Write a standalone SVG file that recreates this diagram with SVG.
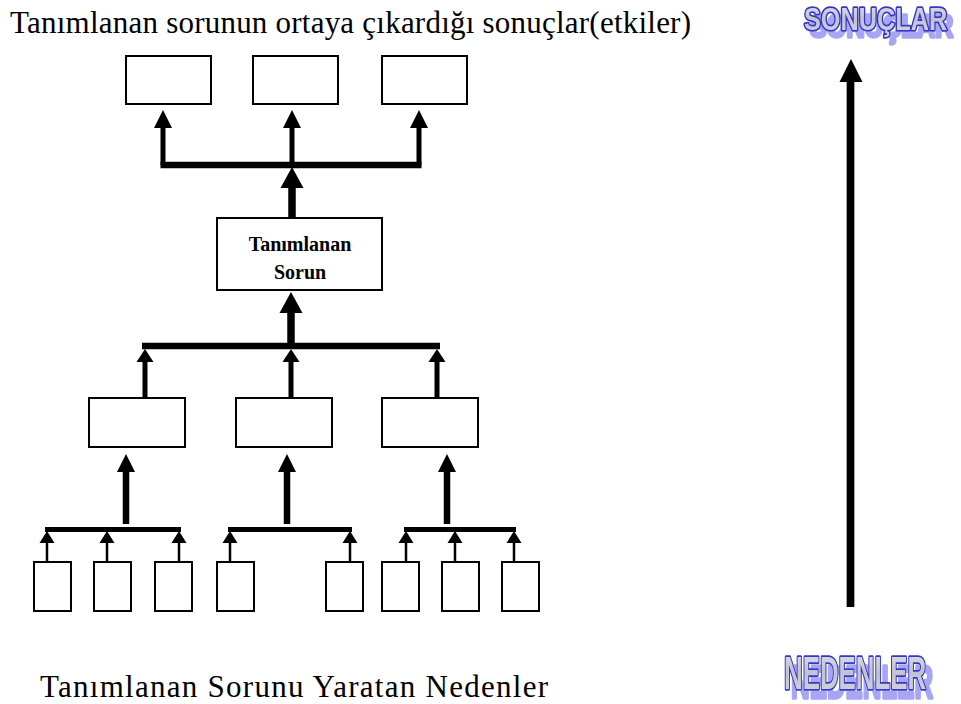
<svg xmlns="http://www.w3.org/2000/svg" width="961" height="704" viewBox="0 0 961 704">
  <defs>
    <linearGradient id="artFill" x1="0" y1="0" x2="0" y2="1">
      <stop offset="0" stop-color="#e2e2ec"/>
      <stop offset="0.5" stop-color="#c2c2d0"/>
      <stop offset="1" stop-color="#d6d6e2"/>
    </linearGradient>
    <!-- soft blue drop shadow for the word-art labels -->
    <filter id="artShadowSmall" x="-10%" y="-30%" width="130%" height="180%">
      <feOffset in="SourceAlpha" dx="6" dy="7" result="off"/>
      <feFlood flood-color="#a6a6f4"/>
      <feComposite in2="off" operator="in" result="shadow"/>
      <feMerge><feMergeNode in="shadow"/><feMergeNode in="SourceGraphic"/></feMerge>
    </filter>
    <filter id="artShadowLarge" x="-10%" y="-30%" width="130%" height="180%">
      <feOffset in="SourceAlpha" dx="7" dy="9" result="off"/>
      <feFlood flood-color="#a6a6f4"/>
      <feComposite in2="off" operator="in" result="shadow"/>
      <feMerge><feMergeNode in="shadow"/><feMergeNode in="SourceGraphic"/></feMerge>
    </filter>
  </defs>
  <style>
    .box { fill: #ffffff; stroke: #000000; stroke-width: 2; }
    .bar { stroke: #000000; fill: none; stroke-linecap: butt; }
    .head { fill: #000000; }
    .caption { font-family: "Liberation Serif", "Times New Roman", serif; font-size: 31px; fill: #000000; }
    .label { font-family: "Liberation Serif", "Times New Roman", serif; font-size: 20px; font-weight: bold; fill: #000000; text-anchor: middle; }
    .art { font-family: "Liberation Sans", Arial, sans-serif; font-weight: bold; fill: url(#artFill); stroke: #3434c8; stroke-width: 3.5; paint-order: stroke; stroke-linejoin: round; }
  </style>

  <!-- headings -->
  <text class="caption" x="10" y="33" textLength="681" lengthAdjust="spacing">Tanımlanan sorunun ortaya çıkardığı sonuçlar(etkiler)</text>
  <text class="caption" x="40" y="697" font-size="32" textLength="508" lengthAdjust="spacing">Tanımlanan Sorunu Yaratan Nedenler</text>

  <!-- word-art side labels -->
  <g id="sonuclar" filter="url(#artShadowSmall)">
    <text class="art" font-size="32" transform="translate(804 30) scale(0.79 1)">SONUÇLAR</text>
  </g>
  <g id="nedenler" filter="url(#artShadowLarge)">
    <text class="art" font-size="47" transform="translate(784 689) scale(0.55 1)">NEDENLER</text>
  </g>

  <!-- effects -->
  <g id="effect-1"><rect class="box" x="126" y="56" width="85" height="48"/></g>
  <g id="effect-2"><rect class="box" x="253" y="56" width="85" height="48"/></g>
  <g id="effect-3"><rect class="box" x="382" y="56" width="85" height="48"/></g>

  <!-- core problem -->
  <g id="problem">
    <rect class="box" x="217" y="218" width="165" height="72"/>
    <text class="label" x="300" y="251">Tanımlanan</text>
    <text class="label" x="300" y="279">Sorun</text>
  </g>

  <!-- main causes -->
  <g id="cause-1"><rect class="box" x="89" y="398" width="96" height="49"/></g>
  <g id="cause-2"><rect class="box" x="236" y="398" width="96" height="49"/></g>
  <g id="cause-3"><rect class="box" x="382" y="398" width="96" height="49"/></g>

  <!-- sub causes -->
  <g id="sub-1-1"><rect class="box" x="34" y="562" width="37" height="49"/></g>
  <g id="sub-1-2"><rect class="box" x="94" y="562" width="37" height="49"/></g>
  <g id="sub-1-3"><rect class="box" x="155" y="562" width="37" height="49"/></g>
  <g id="sub-2-1"><rect class="box" x="217" y="562" width="37" height="49"/></g>
  <g id="sub-2-2"><rect class="box" x="326" y="562" width="37" height="49"/></g>
  <g id="sub-3-1"><rect class="box" x="382" y="562" width="37" height="49"/></g>
  <g id="sub-3-2"><rect class="box" x="442" y="562" width="37" height="49"/></g>
  <g id="sub-3-3"><rect class="box" x="502" y="562" width="37" height="49"/></g>

  <g id="connectors">
    <!-- problem to effects -->
    <path class="bar" stroke-width="6.5" d="M160.5 165 H421.5"/>
    <path class="bar" stroke-width="5" d="M163 165 V127 M292 165 V127 M419 165 V127"/>
    <polygon class="head" points="163,110 154,128 172,128"/>
    <polygon class="head" points="292,110 283,128 301,128"/>
    <polygon class="head" points="419,110 410,128 428,128"/>
    <path class="bar" stroke-width="7.5" d="M292 218 V187"/>
    <polygon class="head" points="292,167 280.5,188 303.5,188"/>

    <!-- main causes to problem -->
    <path class="bar" stroke-width="7.5" d="M291 346 V312"/>
    <polygon class="head" points="291,292 279.5,313 302.5,313"/>
    <path class="bar" stroke-width="6.5" d="M142 346 H440"/>
    <path class="bar" stroke-width="5" d="M145 398 V361 M291 398 V361 M437 398 V361"/>
    <polygon class="head" points="145,349 136.5,362 153.5,362"/>
    <polygon class="head" points="291,349 282.5,362 299.5,362"/>
    <polygon class="head" points="437,349 428.5,362 445.5,362"/>

    <!-- sub causes to main causes -->
    <path class="bar" stroke-width="6.5" d="M126 524 V471 M287 524 V471 M447 524 V471"/>
    <polygon class="head" points="126,454 117,472 135,472"/>
    <polygon class="head" points="287,454 278,472 296,472"/>
    <polygon class="head" points="447,454 438,472 456,472"/>
    <path class="bar" stroke-width="5" d="M45 529.5 H181 M228 529.5 H352 M404 529.5 H516"/>
    <path class="bar" stroke-width="2.5" d="M47 562 V542 M107 562 V542 M179 562 V542 M230 562 V542 M350 562 V542 M406 562 V542 M455 562 V542 M514 562 V542"/>
    <polygon class="head" points="47,531 39.5,543 54.5,543"/>
    <polygon class="head" points="107,531 99.5,543 114.5,543"/>
    <polygon class="head" points="179,531 171.5,543 186.5,543"/>
    <polygon class="head" points="230,531 222.5,543 237.5,543"/>
    <polygon class="head" points="350,531 342.5,543 357.5,543"/>
    <polygon class="head" points="406,531 398.5,543 413.5,543"/>
    <polygon class="head" points="455,531 447.5,543 462.5,543"/>
    <polygon class="head" points="514,531 506.5,543 521.5,543"/>

    <!-- causes to results axis -->
    <path class="bar" stroke-width="7.7" d="M850.5 607 V81"/>
    <polygon class="head" points="851,59 839.5,82 862.5,82"/>
  </g>
</svg>
